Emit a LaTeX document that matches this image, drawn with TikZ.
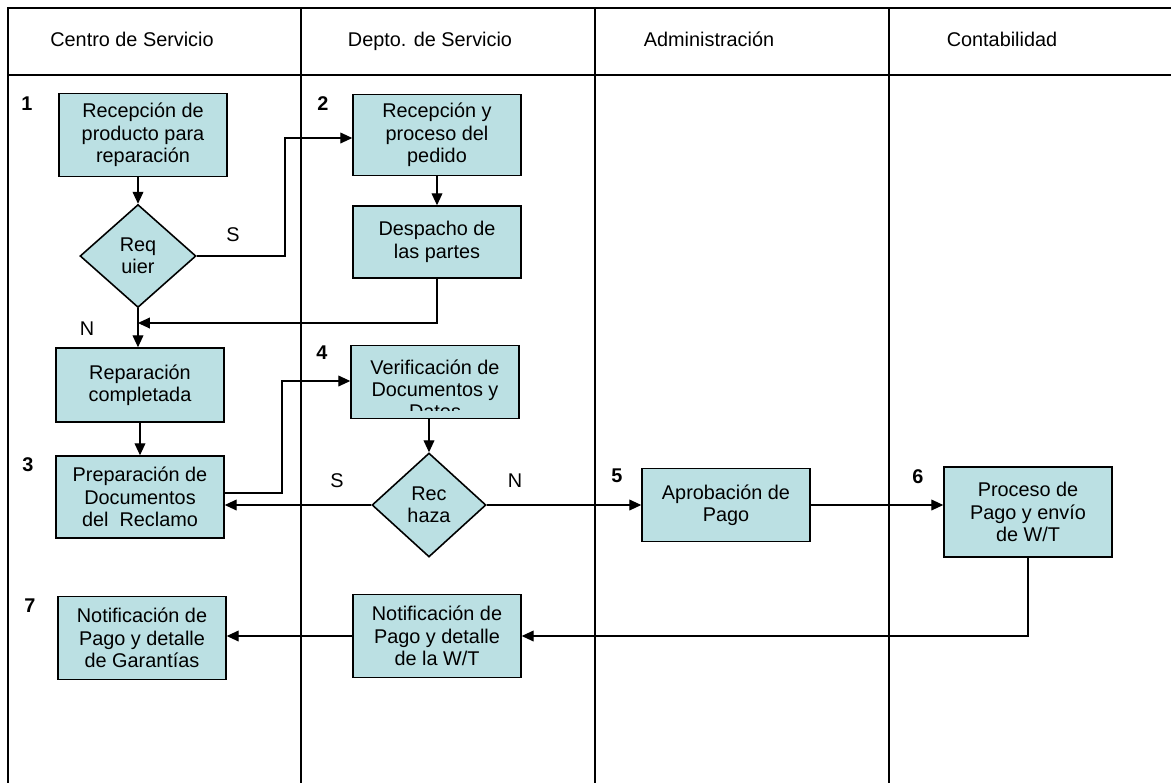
\documentclass[tikz,border=0pt]{standalone}
\usepackage{fontspec}
\setmainfont{Liberation Sans}
\usetikzlibrary{shapes.geometric,arrows.meta}
\definecolor{boxcyan}{RGB}{187,224,227}
\newcommand{\myStepNumber}[3]{
\node[stepnum] (#1) at (#2) {#3};
}

\begin{document}
\begin{tikzpicture}[x=0.02cm, y=-0.02cm,
	every node/.style={font=\fontsize{11.3}{12.8}\selectfont},
	box/.style={draw, line width=0.9pt, fill=boxcyan, minimum width=3.36cm,
		minimum height=1.64cm, align=center, inner sep=0pt},
	decision/.style={diamond, draw, line width=0.9pt, fill=boxcyan,
		minimum width=2.32cm, minimum height=2.06cm, align=center, inner sep=0pt},
	lane/.style={line width=1pt},
	lanehead/.style={text height=1.6ex, text depth=0.5ex},
	conn/.style={line width=0.6pt, -{Triangle[length=6.8pt,width=6.2pt]}},
	stepnum/.style={font=\bfseries\fontsize{11.3}{12.8}\selectfont}]
	\useasboundingbox (0,0) rectangle (1171,782);

	% lanes
	\draw[lane] (1200,8) -- (8,8) -- (8,800);
	\draw[lane] (8,75) -- (1200,75);
	\foreach \x in {301,595,889} \draw[lane] (\x,8) -- (\x,800);

	\node[lanehead] (hCentro) at (132,41) {Centro de Servicio};
	\node[lanehead] (hDepto) at (430,41) {Depto. de Servicio};
	\node[lanehead] (hAdmin) at (709,41) {Administración};
	\node[lanehead] (hConta) at (1002,41) {Contabilidad};

	% steps
	\node[box, minimum height=1.66cm] (recep) at (143,135) {Recepción de\\producto para\\reparación};
	\node[decision] (requier) at (138,256) {Req\\uier};
	\node[box, minimum height=1.62cm] (pedido) at (437,135) {Recepción y\\proceso del\\pedido};
	\node[box, minimum height=1.44cm] (despacho) at (437,242) {Despacho de\\las partes};
	\node[box, minimum height=1.48cm] (repar) at (140,385) {Reparación\\completada};
	\node[box] (prep) at (140,497) {Preparación de\\Documentos\\del\ \ Reclamo};
	\node[box, minimum height=1.46cm, path picture={
		\clip ([yshift=0.16cm]path picture bounding box.south west) rectangle (path picture bounding box.north east);
		\node[anchor=north, align=center, inner sep=0pt] (verifText) at ([yshift=-0.13cm]path picture bounding box.north) {Verificación de\\Documentos y\\Datos};
	}] (verif) at (435,382) {};
	\node[decision, minimum width=2.28cm, minimum height=2.08cm] (rechaza) at (429,505) {Rec\\haza};
	\node[box, minimum height=1.46cm] (aprob) at (726,505) {Aprobación de\\Pago};
	\node[box, minimum height=1.8cm] (proceso) at (1028,512) {Proceso de\\Pago y envío\\de W/T};
	\node[box, minimum height=1.66cm] (notifWT) at (437,636) {Notificación de\\Pago y detalle\\de la W/T};
	\node[box, minimum height=1.66cm] (notifGar) at (142,638) {Notificación de\\Pago y detalle\\de Garantías};

	\myStepNumber{n1}{27,104}{1}
	\myStepNumber{n2}{323,104}{2}
	\myStepNumber{n3}{28,465}{3}
	\myStepNumber{n4}{322,353}{4}
	\myStepNumber{n5}{617,476}{5}
	\myStepNumber{n6}{918,477}{6}
	\myStepNumber{n7}{30,606}{7}

	\node (sReq) at (233,235) {S};
	\node (nReq) at (87,329) {N};
	\node (sRech) at (337,481) {S};
	\node (nRech) at (515,481) {N};

	% connectors
	\coordinate (toPedido) at (285,138);
	\coordinate (merge) at (138,323);
	\coordinate (toVerif) at (282,381);
	\draw[conn] (requier.north |- recep.south) -- (requier.north);
	\draw[conn] (requier.east) -| (toPedido) -- (toPedido -| pedido.west);
	\draw[conn] (pedido.south) -- (despacho.north);
	\draw[conn] (despacho.south) |- (merge);
	\draw[conn] (requier.south) -- (repar.north -| requier.south);
	\draw[conn] (repar.south) -- (prep.north);
	\draw[conn] ([yshift=0.08cm]prep.east) -| (toVerif) -- (toVerif -| verif.west);
	\draw[conn] (rechaza.north |- verif.south) -- (rechaza.north);
	\draw[conn] (rechaza.west) -- (rechaza.west -| prep.east);
	\draw[conn] (rechaza.east) -- (aprob.west);
	\draw[conn] (aprob.east) -- (aprob.east -| proceso.west);
	\draw[conn] (proceso.south) |- (notifWT.east);
	\draw[conn] (notifWT.west) -- (notifWT.west -| notifGar.east);
\end{tikzpicture}
\end{document}
